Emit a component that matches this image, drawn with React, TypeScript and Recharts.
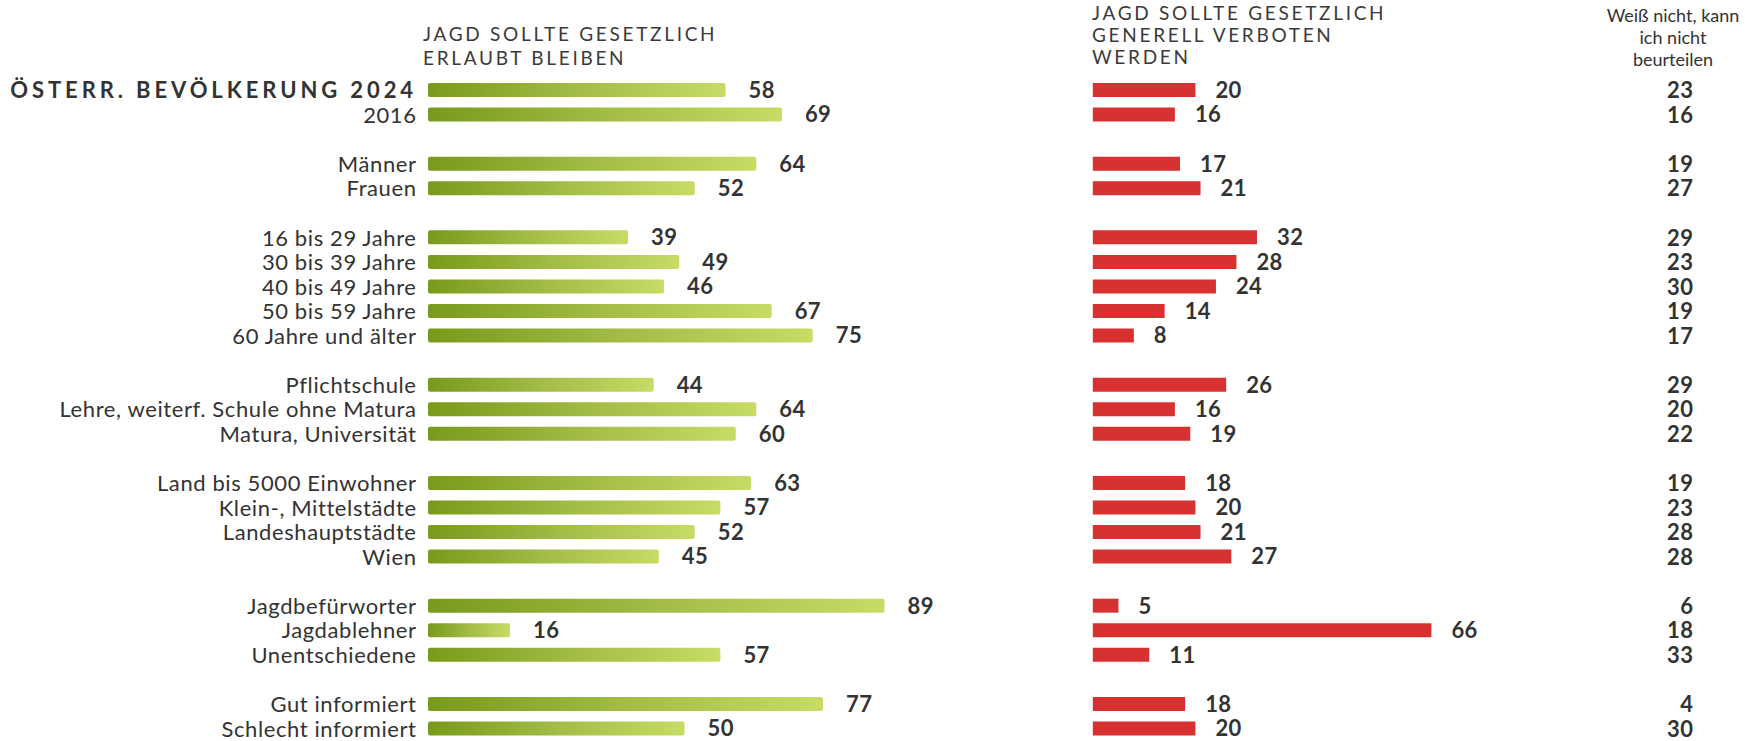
import React from 'react';
import { BarChart, Bar, XAxis, YAxis, LabelList } from 'recharts';

// rows of the survey, '' = gap between groups
const categories = [
  'ÖSTERR. BEVÖLKERUNG 2024', '2016', '',
  'Männer', 'Frauen', '',
  '16 bis 29 Jahre', '30 bis 39 Jahre', '40 bis 49 Jahre', '50 bis 59 Jahre', '60 Jahre und älter', '',
  'Pflichtschule', 'Lehre, weiterf. Schule ohne Matura', 'Matura, Universität', '',
  'Land bis 5000 Einwohner', 'Klein-, Mittelstädte', 'Landeshauptstädte', 'Wien', '',
  'Jagdbefürworter', 'Jagdablehner', 'Unentschiedene', '',
  'Gut informiert', 'Schlecht informiert',
];

const allowed = [58, 69, null, 64, 52, null, 39, 49, 46, 67, 75, null, 44, 64, 60, null, 63, 57, 52, 45, null, 89, 16, 57, null, 77, 50];
const banned = [20, 16, null, 17, 21, null, 32, 28, 24, 14, 8, null, 26, 16, 19, null, 18, 20, 21, 27, null, 5, 66, 11, null, 18, 20];
const unsure = [23, 16, null, 19, 27, null, 29, 23, 30, 19, 17, null, 29, 20, 22, null, 19, 23, 28, 28, null, 6, 18, 33, null, 4, 30];

const data = categories.map((name, i) => ({
  id: `r${i}`,
  name,
  allowed: allowed[i],
  banned: banned[i],
  unsure: unsure[i],
}));

const TEXT = '#333333';
const FONT = 'Lato, "Noto Sans", sans-serif';

const rowIndex = (v: string) => Number(String(v).slice(1));

const RowLabel = (props: any) => {
  const { x, y, payload } = props;
  const i = rowIndex(payload.value);
  const name = categories[i];
  if (!name) return null;
  const title = i === 0;
  return (
    <text
      x={title ? x + 1 : x + 0.6}
      y={y}
      dy="0.36em"
      textAnchor="end"
      fill={TEXT}
      fontFamily={FONT}
      fontSize={22}
      fontWeight={title ? 700 : 400}
      letterSpacing={title ? 3.9 : 0.6}
    >
      {name}
    </text>
  );
};

const UnsureLabel = (props: any) => {
  const { x, y, payload } = props;
  const v = unsure[rowIndex(payload.value)];
  if (v == null) return null;
  return (
    <text x={x + 0.4} y={y} dy="0.36em" textAnchor="end" fill={TEXT} fontFamily={FONT} fontSize={22} fontWeight={700} letterSpacing={0.4}>
      {v}
    </text>
  );
};

const makeValueLabel = (gap: number) => (props: any) => {
  const { x, y, width, height, value } = props;
  if (value == null) return null;
  return (
    <text
      x={x + width + gap}
      y={y + height / 2}
      dy="0.36em"
      textAnchor="start"
      fill={TEXT}
      fontFamily={FONT}
      fontSize={22}
      fontWeight={700}
      letterSpacing={0.4}
    >
      {value}
    </text>
  );
};

const headerStyle: React.CSSProperties = {
  position: 'absolute',
  fontFamily: FONT,
  fontSize: 19,
  fontWeight: 400,
  letterSpacing: 2.7,
  color: '#3a3a3a',
  whiteSpace: 'nowrap',
};

export default function App() {
  return (
    <div style={{ position: 'absolute', top: 0, left: 0, width: 1745, height: 741, overflow: 'hidden', background: '#fff' }}>
      <div style={{ ...headerStyle, left: 423, top: 22, lineHeight: '24px' }}>
        JAGD SOLLTE GESETZLICH<br />ERLAUBT BLEIBEN
      </div>
      <div style={{ ...headerStyle, left: 1092, top: 2, lineHeight: '22px' }}>
        JAGD SOLLTE GESETZLICH<br />GENERELL VERBOTEN<br />WERDEN
      </div>
      <div
        style={{
          position: 'absolute',
          left: 1583,
          width: 180,
          top: 4,
          textAlign: 'center',
          fontFamily: FONT,
          fontSize: 18,
          lineHeight: '22px',
          color: TEXT,
        }}
      >
        Weiß nicht, kann<br />ich nicht<br />beurteilen
      </div>
      <BarChart
        width={1745}
        height={741}
        data={data}
        layout="vertical"
        margin={{ top: 78, right: 0, bottom: 0, left: 0 }}
      >
        <defs>
          <linearGradient id="greenGrad" x1="0" y1="0" x2="1" y2="0">
            <stop offset="0%" stopColor="#789a1a" />
            <stop offset="50%" stopColor="#a2bc45" />
            <stop offset="100%" stopColor="#c6dc64" />
          </linearGradient>
        </defs>
        <XAxis xAxisId="g" type="number" domain={[0, 246.6]} allowDataOverflow hide />
        <XAxis xAxisId="r" type="number" domain={[-129.6, 117]} allowDataOverflow hide />
        <YAxis
          yAxisId="g"
          type="category"
          dataKey="id"
          width={428}
          axisLine={false}
          tickLine={false}
          tickSize={0}
          tickMargin={12}
          interval={0}
          tick={<RowLabel />}
        />
        <YAxis yAxisId="r" type="category" dataKey="id" hide />
        <YAxis
          yAxisId="u"
          orientation="right"
          type="category"
          dataKey="id"
          width={52}
          axisLine={false}
          tickLine={false}
          tickSize={0}
          tickMargin={0}
          interval={0}
          tick={<UnsureLabel />}
        />
        <Bar
          dataKey="allowed"
          xAxisId="g"
          yAxisId="g"
          barSize={14}
          fill="url(#greenGrad)"
          radius={2}
          isAnimationActive={false}
        >
          <LabelList dataKey="allowed" content={makeValueLabel(23)} />
        </Bar>
        <Bar
          dataKey="banned"
          xAxisId="r"
          yAxisId="r"
          barSize={14}
          fill="#d83131"
          isAnimationActive={false}
        >
          <LabelList dataKey="banned" content={makeValueLabel(20)} />
        </Bar>
      </BarChart>
    </div>
  );
}
